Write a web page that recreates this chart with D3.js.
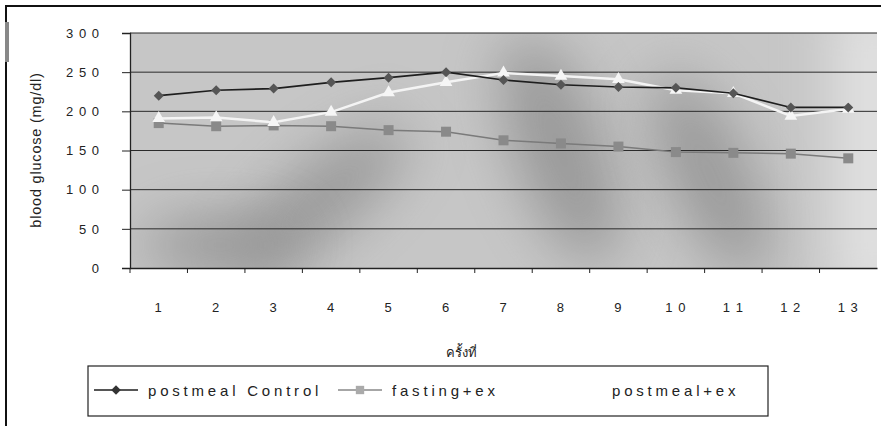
<!DOCTYPE html>
<html>
<head>
<meta charset="utf-8">
<script src="https://cdn.jsdelivr.net/npm/d3@7"></script>
<style>
  body { margin: 0; background: #fff; }
  svg { display: block; font-family: Arial, "Liberation Sans", sans-serif; }
</style>
</head>
<body>
<div id="vis"></div>
<script>
const FRAME_WIDTH = 881;
const FRAME_HEIGHT = 426;
const MARGINS = {left: 130, right: 4, top: 33, bottom: 158};

// data
const sessions = [1, 2, 3, 4, 5, 6, 7, 8, 9, 10, 11, 12, 13];
const postmealControl = [220, 227, 229, 237, 243, 250, 240, 234, 231, 230, 223, 205, 205];
const fastingEx = [185, 181, 182, 181, 176, 174, 163, 159, 155, 148, 147, 146, 140];
const postmealEx = [191, 192, 186, 199, 224, 237, 249, 245, 241, 227, 223, 194, 203];
const yTicks = [0, 50, 100, 150, 200, 250, 300];
const seriesNames = ["postmeal Control", "fasting+ex", "postmeal+ex"];

const VIS_WIDTH = FRAME_WIDTH - MARGINS.left - MARGINS.right;
const VIS_HEIGHT = FRAME_HEIGHT - MARGINS.top - MARGINS.bottom;

const svg = d3.select("#vis")
  .append("svg")
  .attr("width", FRAME_WIDTH)
  .attr("height", FRAME_HEIGHT);

const X_SCALE = d3.scaleBand()
  .domain(sessions)
  .range([MARGINS.left, MARGINS.left + VIS_WIDTH]);

const Y_SCALE = d3.scaleLinear()
  .domain([0, 300])
  .range([MARGINS.top + VIS_HEIGHT, MARGINS.top]);

const cx = (d, i) => X_SCALE(sessions[i]) + X_SCALE.bandwidth() / 2;

// scanned-looking grey plot area
const defs = svg.append("defs");
defs.append("filter").attr("id", "blur")
  .attr("x", "-100%").attr("y", "-100%").attr("width", "300%").attr("height", "300%")
  .append("feGaussianBlur").attr("stdDeviation", 28);
defs.append("clipPath").attr("id", "plotclip")
  .append("rect")
  .attr("x", MARGINS.left).attr("y", MARGINS.top)
  .attr("width", VIS_WIDTH).attr("height", VIS_HEIGHT);

const bg = svg.append("g").attr("clip-path", "url(#plotclip)");
bg.append("rect")
  .attr("x", MARGINS.left).attr("y", MARGINS.top)
  .attr("width", VIS_WIDTH).attr("height", VIS_HEIGHT)
  .attr("fill", "#c6c6c6");
// a few darker smudges like the scan
bg.selectAll("ellipse")
  .data([[320, 200, 110, 35, -40], [560, 150, 45, 120, -20], [710, 175, 40, 110, -25], [220, 245, 80, 30, 0]])
  .enter()
  .append("ellipse")
  .attr("cx", d => d[0]).attr("cy", d => d[1])
  .attr("rx", d => d[2]).attr("ry", d => d[3])
  .attr("transform", d => `rotate(${d[4]},${d[0]},${d[1]})`)
  .attr("fill", "#8a8a8a")
  .attr("opacity", 0.75)
  .attr("filter", "url(#blur)");
bg.append("rect")
  .attr("x", 835).attr("y", MARGINS.top - 40)
  .attr("width", 80).attr("height", VIS_HEIGHT + 80)
  .attr("fill", "#e2e2e2").attr("filter", "url(#blur)");

// gridlines
svg.append("g")
  .selectAll("line")
  .data(yTicks.slice(1))
  .enter()
  .append("line")
  .attr("x1", MARGINS.left).attr("x2", MARGINS.left + VIS_WIDTH)
  .attr("y1", d => Y_SCALE(d)).attr("y2", d => Y_SCALE(d))
  .attr("stroke", "#2a2a2a").attr("stroke-width", 1);

// y axis
const yAxis = svg.append("g")
  .attr("transform", `translate(${MARGINS.left},0)`)
  .call(d3.axisLeft(Y_SCALE).tickValues(yTicks).tickSize(8).tickPadding(22)
    .tickFormat(d => String(d).split("").join(" ")));
yAxis.select(".domain").attr("stroke", "#222").attr("stroke-width", 1.3);
yAxis.selectAll("line").attr("stroke", "#222");
yAxis.selectAll("text").attr("font-size", 13).attr("letter-spacing", 1).attr("fill", "#222");

// x axis
const xAxis = svg.append("g")
  .attr("transform", `translate(0,${MARGINS.top + VIS_HEIGHT})`)
  .call(d3.axisBottom(X_SCALE).tickSize(0).tickPadding(35)
    .tickFormat(d => String(d).split("").join(" ")));
xAxis.select(".domain").attr("stroke", "#222").attr("stroke-width", 1.3);
xAxis.selectAll("text").attr("font-size", 13).attr("letter-spacing", 1).attr("fill", "#222");
// tick marks on band edges
svg.append("g")
  .selectAll("line")
  .data(sessions)
  .enter()
  .append("line")
  .attr("x1", d => X_SCALE(d)).attr("x2", d => X_SCALE(d))
  .attr("y1", MARGINS.top + VIS_HEIGHT).attr("y2", MARGINS.top + VIS_HEIGHT + 5)
  .attr("stroke", "#222");

// axis titles
svg.append("text")
  .attr("transform", `translate(41,150) rotate(-90)`)
  .attr("text-anchor", "middle")
  .attr("font-size", 14.5)
  .attr("letter-spacing", 0.8)
  .attr("fill", "#222")
  .text("blood glucose (mg/dl)");

svg.append("text")
  .attr("x", 461).attr("y", 357)
  .attr("text-anchor", "middle")
  .attr("font-family", "'Noto Sans', 'DejaVu Sans', sans-serif")
  .attr("font-size", 13)
  .attr("fill", "#222")
  .text("ครั้งที่");

// series
const line = d3.line().x(cx).y(d => Y_SCALE(d));
const lines = svg.append("g");

lines.append("path").datum(fastingEx)
  .attr("d", line).attr("fill", "none")
  .attr("stroke", "#7a7a7a").attr("stroke-width", 1.5);
lines.selectAll(".sq").data(fastingEx).enter()
  .append("rect").attr("class", "sq")
  .attr("x", (d, i) => cx(d, i) - 5).attr("y", d => Y_SCALE(d) - 5)
  .attr("width", 10).attr("height", 10)
  .attr("fill", "#8a8a8a");

lines.append("path").datum(postmealEx)
  .attr("d", line).attr("fill", "none")
  .attr("stroke", "#f4f4f4").attr("stroke-width", 2.5);
lines.selectAll(".tri").data(postmealEx).enter()
  .append("path").attr("class", "tri")
  .attr("transform", (d, i) => `translate(${cx(d, i)},${Y_SCALE(d)})`)
  .attr("d", d3.symbol(d3.symbolTriangle, 70))
  .attr("fill", "#f6f6f6");

lines.append("path").datum(postmealControl)
  .attr("d", line).attr("fill", "none")
  .attr("stroke", "#1e1e1e").attr("stroke-width", 1.6);
lines.selectAll(".dia").data(postmealControl).enter()
  .append("path").attr("class", "dia")
  .attr("transform", (d, i) => `translate(${cx(d, i)},${Y_SCALE(d)}) rotate(45)`)
  .attr("d", d3.symbol(d3.symbolSquare, 50))
  .attr("fill", "#555");

// legend
const legend = svg.append("g");
legend.append("rect")
  .attr("x", 88).attr("y", 366).attr("width", 680).attr("height", 50)
  .attr("fill", "#fff").attr("stroke", "#222").attr("stroke-width", 1.2);

const legendItems = [
  {name: seriesNames[0], x0: 94, tx: 148, stroke: "#1e1e1e", fill: "#333", shape: "diamond"},
  {name: seriesNames[1], x0: 338, tx: 392, stroke: "#888", fill: "#aaa", shape: "square"},
  {name: seriesNames[2], x0: 556, tx: 612, stroke: "#fff", fill: "#fff", shape: "triangle"}
];
const li = legend.selectAll(".item").data(legendItems).enter()
  .append("g").attr("class", "item");
li.append("line")
  .attr("x1", d => d.x0).attr("x2", d => d.x0 + 44)
  .attr("y1", 390).attr("y2", 390)
  .attr("stroke", d => d.stroke).attr("stroke-width", 1.5);
li.append("path")
  .attr("transform", d => `translate(${d.x0 + 22},390)` + (d.shape === "diamond" ? " rotate(45)" : ""))
  .attr("d", d => d3.symbol(d.shape === "triangle" ? d3.symbolTriangle : d3.symbolSquare, d.shape === "square" ? 70 : 45)())
  .attr("fill", d => d.fill);
li.append("text")
  .attr("x", d => d.tx).attr("y", 396)
  .attr("font-size", 15)
  .attr("letter-spacing", 3.8)
  .attr("fill", "#222")
  .text(d => d.name);

// outer chart border (left and top edges visible in the scan)
svg.append("path")
  .attr("d", "M6,426 V6 H881")
  .attr("fill", "none").attr("stroke", "#111").attr("stroke-width", 2);
svg.append("rect")
  .attr("x", 5).attr("y", 22).attr("width", 4).attr("height", 40)
  .attr("fill", "#888");
</script>
</body>
</html>
